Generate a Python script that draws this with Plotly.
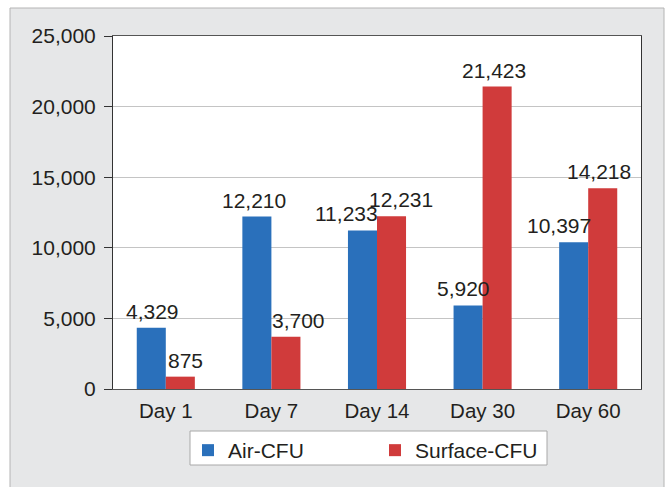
import plotly.graph_objects as go

categories = ["Day 1", "Day 7", "Day 14", "Day 30", "Day 60"]
air_cfu = [4329, 12210, 11233, 5920, 10397]
surface_cfu = [875, 3700, 12231, 21423, 14218]
series_names = ["Air-CFU", "Surface-CFU"]
y_ticks = [0, 5000, 10000, 15000, 20000, 25000]

BLUE = "#2a70bb"
RED = "#d03b3b"
TEXT = "#231f20"
FONT = "Liberation Sans, Arial, sans-serif"

fig = go.Figure()
fig.add_trace(go.Bar(x=categories, y=air_cfu, name=series_names[0],
                     marker=dict(color=BLUE, line=dict(width=0))))
fig.add_trace(go.Bar(x=categories, y=surface_cfu, name=series_names[1],
                     marker=dict(color=RED, line=dict(width=0))))

# horizontal label nudges (pixels) as placed in the reference
nudge_air = [1, -3, -16, -5, -15]
nudge_surface = [5, 13, 9, -3, -4]

annotations = []
for i, cat in enumerate(categories):
    for val, shift in ((air_cfu[i], -14.5 + nudge_air[i]),
                       (surface_cfu[i], 14.5 + nudge_surface[i])):
        annotations.append(dict(x=cat, y=val, xref="x", yref="y", text=f"{val:,}",
                                showarrow=False, yanchor="bottom",
                                xshift=shift, yshift=3,
                                font=dict(size=21, color=TEXT, family=FONT)))

W, H = 665, 487
L, R, T, B = 113, 24, 36, 98
pw, ph = W - L - R, H - T - B

def px_x(p):
    return (p - L) / pw

def px_y(p):
    return (H - B - p) / ph

shapes = [
    dict(type="rect", xref="paper", yref="paper", layer="below",
         x0=px_x(10), x1=px_x(664), y0=px_y(495), y1=px_y(8),
         fillcolor="#e6e7e8", line=dict(color="#b4b4b4", width=1)),
    dict(type="rect", xref="paper", yref="paper", layer="below",
         x0=0, x1=1, y0=0, y1=1, fillcolor="white", line=dict(width=0)),
    dict(type="rect", xref="paper", yref="paper", layer="below",
         x0=px_x(190), x1=px_x(547), y0=px_y(465), y1=px_y(431),
         fillcolor="white", line=dict(color="#a8a8a8", width=1)),
]

fig.update_layout(
    width=W, height=H,
    margin=dict(l=L, r=R, t=T, b=B, pad=0),
    paper_bgcolor="white", plot_bgcolor="white",
    barmode="group", bargap=0.45, bargroupgap=0,
    font=dict(family=FONT, size=21, color=TEXT),
    showlegend=True,
    legend=dict(orientation="h", x=px_x(188), xanchor="left", y=px_y(430), yanchor="top",
                bgcolor="rgba(0,0,0,0)", borderwidth=0,
                font=dict(size=21, color=TEXT, family=FONT),
                entrywidth=142, entrywidthmode="pixels", traceorder="normal"),
    annotations=annotations,
    shapes=shapes,
)
fig.update_xaxes(showline=True, linecolor="#555555", linewidth=1, mirror=True,
                 ticks="", showgrid=False, ticklabelstandoff=3,
                 tickfont=dict(size=20.5, color=TEXT))
fig.update_yaxes(range=[0, 25000], tickvals=y_ticks, tickformat=",",
                 showline=True, linecolor="#333333", linewidth=1, mirror=True,
                 ticks="outside", ticklen=8, tickcolor="#333333", ticklabelstandoff=4,
                 showgrid=True, gridcolor="#c4c4c4", gridwidth=1, zeroline=False,
                 tickfont=dict(size=21, color=TEXT))

fig.write_html("out.html", config={"displayModeBar": False},
               post_script="document.body.style.margin='0';")
